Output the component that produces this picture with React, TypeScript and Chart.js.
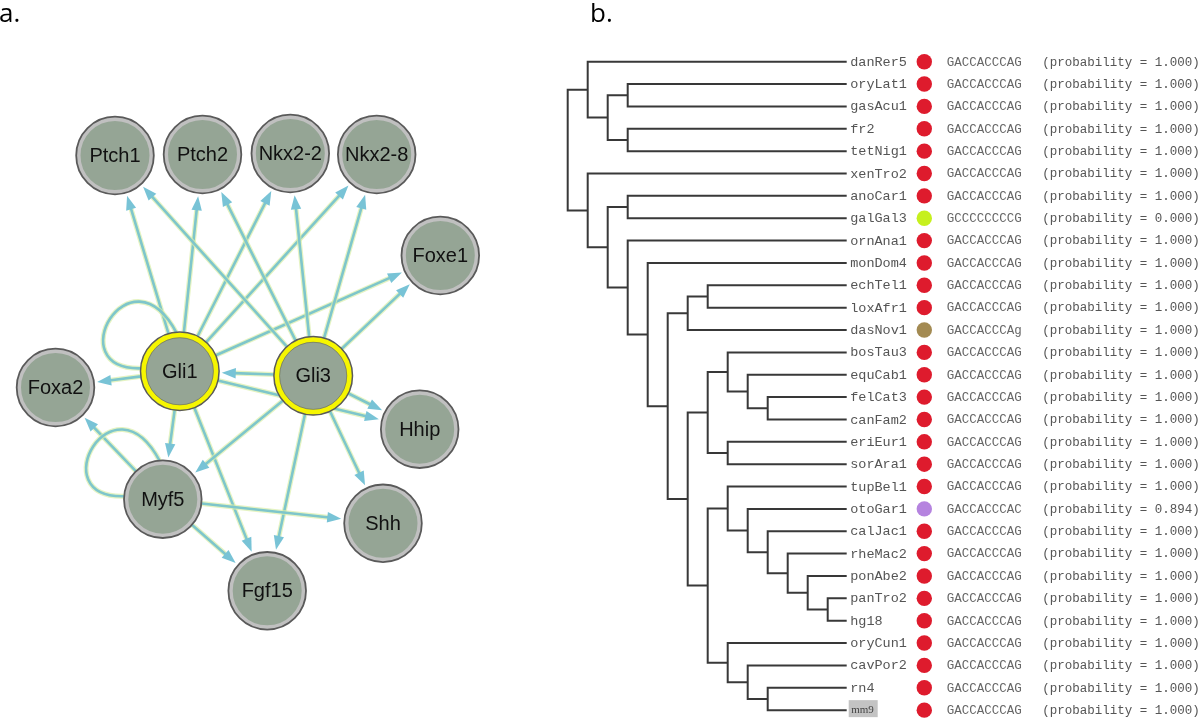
import React, { useEffect, useRef } from "react";
import { Chart, registerables } from "chart.js";

Chart.register(...registerables);

// ---------------- Panel a: regulatory network ----------------
const geneNames = ["Ptch1", "Ptch2", "Nkx2-2", "Nkx2-8", "Foxe1", "Gli1", "Gli3", "Foxa2", "Hhip", "Myf5", "Shh", "Fgf15"];
const geneX = [115, 202.5, 290.3, 376.7, 440.3, 179.8, 313.2, 55.5, 419.7, 162.8, 383, 267.2];
const geneY = [155.5, 154.5, 153.5, 154.5, 255.5, 371.3, 375.8, 387.5, 429.2, 499.2, 523.3, 590.8];
const highlightedGenes = ["Gli1", "Gli3"];

const edgeFrom = [
  "Gli1", "Gli1", "Gli1", "Gli1", "Gli1", "Gli1", "Gli1", "Gli1", "Gli1", "Gli1",
  "Gli3", "Gli3", "Gli3", "Gli3", "Gli3", "Gli3", "Gli3", "Gli3", "Gli3", "Gli3",
  "Myf5", "Myf5", "Myf5", "Myf5",
];
const edgeTo = [
  "Ptch1", "Ptch2", "Nkx2-2", "Nkx2-8", "Foxe1", "Foxa2", "Myf5", "Fgf15", "Hhip", "Gli1",
  "Ptch1", "Ptch2", "Nkx2-2", "Nkx2-8", "Foxe1", "Gli1", "Hhip", "Myf5", "Fgf15", "Shh",
  "Foxa2", "Shh", "Fgf15", "Myf5",
];

// ---------------- Panel b: phylogeny ----------------
const treeNewick =
  "((danRer5,((oryLat1,gasAcu1),(fr2,tetNig1))),(xenTro2,((anoCar1,galGal3),(ornAna1,(monDom4,(((echTel1,loxAfr1),dasNov1),(((bosTau3,(equCab1,(felCat3,canFam2))),(eriEur1,sorAra1)),((tupBel1,(otoGar1,(calJac1,(rheMac2,(ponAbe2,(panTro2,hg18)))))),(oryCun1,(cavPor2,(rn4,mm9)))))))))));";

const leafNames = [
  "danRer5", "oryLat1", "gasAcu1", "fr2", "tetNig1", "xenTro2", "anoCar1", "galGal3", "ornAna1", "monDom4",
  "echTel1", "loxAfr1", "dasNov1", "bosTau3", "equCab1", "felCat3", "canFam2", "eriEur1", "sorAra1", "tupBel1",
  "otoGar1", "calJac1", "rheMac2", "ponAbe2", "panTro2", "hg18", "oryCun1", "cavPor2", "rn4", "mm9",
];
const leafSequences = [
  "GACCACCCAG", "GACCACCCAG", "GACCACCCAG", "GACCACCCAG", "GACCACCCAG", "GACCACCCAG", "GACCACCCAG", "GCCCCCCCCG", "GACCACCCAG", "GACCACCCAG",
  "GACCACCCAG", "GACCACCCAG", "GACCACCCAg", "GACCACCCAG", "GACCACCCAG", "GACCACCCAG", "GACCACCCAG", "GACCACCCAG", "GACCACCCAG", "GACCACCCAG",
  "GACCACCCAC", "GACCACCCAG", "GACCACCCAG", "GACCACCCAG", "GACCACCCAG", "GACCACCCAG", "GACCACCCAG", "GACCACCCAG", "GACCACCCAG", "GACCACCCAG",
];
const leafProbabilities = [
  1, 1, 1, 1, 1, 1, 1, 0, 1, 1,
  1, 1, 1, 1, 1, 1, 1, 1, 1, 1,
  0.894, 1, 1, 1, 1, 1, 1, 1, 1, 1,
];
const highlightedLeaf = "mm9";

// ---------------- styling ----------------
const sequenceColors: Record<string, string> = {
  GACCACCCAG: "#de1b2d",
  GCCCCCCCCG: "#c6f01e",
  GACCACCCAg: "#a38a52",
  GACCACCCAC: "#b583df",
};
const NODE_R = 39;
const TIP_DEPTH = 13.95;
const DOT_COL = 17.83;

type TNode = { name?: string; children: TNode[]; depth: number; y: number };

function parseNewick(s: string): TNode {
  let i = 0;
  const parse = (depth: number): TNode => {
    if (s[i] === "(") {
      i++;
      const node: TNode = { children: [], depth, y: 0 };
      for (;;) {
        node.children.push(parse(depth + 1));
        if (s[i] === ",") { i++; continue; }
        if (s[i] === ")") { i++; break; }
        break;
      }
      return node;
    }
    let name = "";
    while (i < s.length && !",();".includes(s[i])) name += s[i++];
    return { name, children: [], depth, y: 0 };
  };
  return parse(0);
}

function layoutTree(n: TNode) {
  if (n.children.length === 0) {
    n.y = leafNames.indexOf(n.name as string);
    return;
  }
  n.children.forEach(layoutTree);
  n.y = (n.children[0].y + n.children[n.children.length - 1].y) / 2;
}

function treeSegments(root: TNode) {
  const segs: { x: number; y: number }[][] = [];
  const walk = (n: TNode) => {
    if (!n.children.length) return;
    const first = n.children[0];
    const last = n.children[n.children.length - 1];
    const cx = (c: TNode) => (c.children.length ? c.depth : TIP_DEPTH);
    segs.push([
      { x: cx(first), y: first.y },
      { x: n.depth, y: first.y },
      { x: n.depth, y: last.y },
      { x: cx(last), y: last.y },
    ]);
    n.children.slice(1, -1).forEach((c) => segs.push([{ x: n.depth, y: c.y }, { x: cx(c), y: c.y }]));
    n.children.forEach(walk);
  };
  walk(root);
  return segs;
}

function baseOptions(xmin: number, xmax: number, ymin: number, ymax: number): any {
  return {
    responsive: false,
    maintainAspectRatio: false,
    animation: false,
    events: [],
    layout: { padding: 0, autoPadding: false },
    plugins: { legend: { display: false }, tooltip: { enabled: false }, title: { display: false } },
    scales: {
      x: { type: "linear", display: false, min: xmin, max: xmax },
      y: { type: "linear", display: false, min: ymin, max: ymax, reverse: true },
    },
  };
}

const networkPlugin = {
  id: "networkEdges",
  beforeDatasetsDraw(chart: any) {
    const { ctx } = chart;
    const xs = chart.scales.x;
    const ys = chart.scales.y;
    const pos = (g: string) => {
      const k = geneNames.indexOf(g);
      return [xs.getPixelForValue(geneX[k]), ys.getPixelForValue(geneY[k])];
    };
    ctx.save();
    ctx.lineCap = "round";
    const strokes: [number, string][] = [[5, "rgba(218,238,168,0.7)"], [2.6, "#7ec6cb"]];
    for (let e = 0; e < edgeFrom.length; e++) {
      const [x1, y1] = pos(edgeFrom[e]);
      const [x2, y2] = pos(edgeTo[e]);
      if (edgeFrom[e] === edgeTo[e]) {
        const p = (dx: number, dy: number) => [x1 + dx, y1 + dy];
        const [ax, ay] = p(-38, -3);
        const [b1x, b1y] = p(-122, 0);
        const [b2x, b2y] = p(-50, -127);
        const [dx, dy] = p(-3, -38);
        for (const [w, c] of strokes) {
          ctx.beginPath();
          ctx.moveTo(ax, ay);
          ctx.bezierCurveTo(b1x, b1y, b2x, b2y, dx, dy);
          ctx.lineWidth = w;
          ctx.strokeStyle = c;
          ctx.stroke();
        }
        continue;
      }
      const len = Math.hypot(x2 - x1, y2 - y1);
      const ux = (x2 - x1) / len;
      const uy = (y2 - y1) / len;
      const sx = x1 + ux * NODE_R;
      const sy = y1 + uy * NODE_R;
      const tx = x2 - ux * (NODE_R + 3);
      const ty = y2 - uy * (NODE_R + 3);
      const hl = 14;
      const hw = 5.2;
      const bx = tx - ux * hl;
      const by = ty - uy * hl;
      for (const [w, c] of strokes) {
        ctx.beginPath();
        ctx.moveTo(sx, sy);
        ctx.lineTo(bx + ux * 2, by + uy * 2);
        ctx.lineWidth = w;
        ctx.strokeStyle = c;
        ctx.stroke();
      }
      ctx.beginPath();
      ctx.moveTo(tx, ty);
      ctx.lineTo(bx - uy * hw, by + ux * hw);
      ctx.lineTo(bx + uy * hw, by - ux * hw);
      ctx.closePath();
      ctx.fillStyle = "#78c3d6";
      ctx.fill();
    }
    ctx.restore();
  },
  afterDatasetsDraw(chart: any) {
    const { ctx } = chart;
    const xs = chart.scales.x;
    const ys = chart.scales.y;
    ctx.save();
    geneNames.forEach((g, k) => {
      const x = xs.getPixelForValue(geneX[k]);
      const y = ys.getPixelForValue(geneY[k]);
      const hi = highlightedGenes.includes(g);
      ctx.beginPath();
      ctx.arc(x, y, hi ? 39.3 : 38.8, 0, Math.PI * 2);
      ctx.lineWidth = hi ? 1.5 : 1.8;
      ctx.strokeStyle = "#5a5a5a";
      ctx.stroke();
      if (hi) {
        ctx.beginPath();
        ctx.arc(x, y, 33.6, 0, Math.PI * 2);
        ctx.lineWidth = 0.8;
        ctx.strokeStyle = "rgba(90,90,60,0.6)";
        ctx.stroke();
      }
      ctx.fillStyle = "#111";
      ctx.font = "20px 'Liberation Sans', Arial, sans-serif";
      ctx.textAlign = "center";
      ctx.textBaseline = "middle";
      ctx.fillText(g, x, y + 1);
    });
    ctx.textAlign = "left";
    ctx.textBaseline = "alphabetic";
    ctx.font = "26px 'Open Sans', sans-serif";
    ctx.fillStyle = "#000";
    ctx.fillText("a.", -1, 22);
    ctx.restore();
  },
};

const treePlugin = {
  id: "treeLabels",
  afterDatasetsDraw(chart: any) {
    const { ctx } = chart;
    const xs = chart.scales.x;
    const ys = chart.scales.y;
    const tip = xs.getPixelForValue(TIP_DEPTH);
    const dot = xs.getPixelForValue(DOT_COL);
    ctx.save();
    ctx.textBaseline = "middle";
    ctx.textAlign = "left";
    leafNames.forEach((name, i) => {
      const y = ys.getPixelForValue(i);
      if (name === highlightedLeaf) {
        ctx.fillStyle = "#c3c3c3";
        ctx.fillRect(tip + 2, y - 10, 29, 17);
        ctx.fillStyle = "#444";
        ctx.font = "11px 'Liberation Serif', serif";
        ctx.fillText(name, tip + 4.5, y);
      } else {
        ctx.fillStyle = "#555";
        ctx.font = "13.5px 'Liberation Mono', monospace";
        ctx.fillText(name, tip + 3.5, y + 0.5);
      }
      ctx.fillStyle = "#666";
      ctx.font = "12.5px 'Liberation Mono', monospace";
      ctx.fillText(leafSequences[i], dot + 22.5, y + 0.5);
      ctx.fillStyle = "#555";
      ctx.fillText(`(probability = ${leafProbabilities[i].toFixed(3)})`, dot + 118, y + 0.5);
    });
    ctx.font = "26px 'Open Sans', sans-serif";
    ctx.fillStyle = "#000";
    ctx.textBaseline = "alphabetic";
    ctx.fillText("b.", 30, 22);
    ctx.restore();
  },
};

export default function App() {
  const netRef = useRef<HTMLCanvasElement>(null);
  const treeRef = useRef<HTMLCanvasElement>(null);

  useEffect(() => {
    const netChart = new Chart(netRef.current as HTMLCanvasElement, {
      type: "scatter",
      data: {
        datasets: [
          {
            data: geneNames.map((_, k) => ({ x: geneX[k], y: geneY[k] })),
            pointRadius: geneNames.map((g) => (highlightedGenes.includes(g) ? 36.6 : 36.5)),
            pointBackgroundColor: "#95a595",
            pointBorderColor: geneNames.map((g) => (highlightedGenes.includes(g) ? "#f6f600" : "#c0c0c0")),
            pointBorderWidth: geneNames.map((g) => (highlightedGenes.includes(g) ? 5.6 : 4)),
            clip: false,
          } as any,
        ],
      },
      options: baseOptions(0, 560, 0, 721),
      plugins: [networkPlugin],
    });

    const root = parseNewick(treeNewick);
    layoutTree(root);
    const segs = treeSegments(root);
    const yUnit = 22.36;
    const yTop = 61.7;
    const yMin = -yTop / yUnit;
    const xUnit = 20;
    const xLeft = 7.7;
    const xMin = -xLeft / xUnit;

    const treeChart = new Chart(treeRef.current as HTMLCanvasElement, {
      type: "scatter",
      data: {
        datasets: [
          {
            data: leafNames.map((_, i) => ({ x: DOT_COL, y: i })),
            pointRadius: 7.7,
            pointBackgroundColor: leafSequences.map((s) => sequenceColors[s]),
            pointBorderWidth: 0,
            showLine: false,
          } as any,
          ...segs.map((s) => ({
            data: s,
            showLine: true,
            pointRadius: 0,
            borderColor: "#383838",
            borderWidth: 2,
            borderJoinStyle: "miter",
            tension: 0,
            fill: false,
          })),
        ],
      },
      options: baseOptions(xMin, xMin + 640 / xUnit, yMin, yMin + 721 / yUnit),
      plugins: [treePlugin],
    });

    return () => {
      netChart.destroy();
      treeChart.destroy();
    };
  }, []);

  return (
    <div style={{ position: "fixed", left: 0, top: 0, width: 1200, height: 721, background: "#fff" }}>
      <canvas
        ref={netRef}
        width={560}
        height={721}
        style={{ position: "absolute", left: 0, top: 0, width: 560, height: 721 }}
      />
      <canvas
        ref={treeRef}
        width={640}
        height={721}
        style={{ position: "absolute", left: 560, top: 0, width: 640, height: 721 }}
      />
    </div>
  );
}
